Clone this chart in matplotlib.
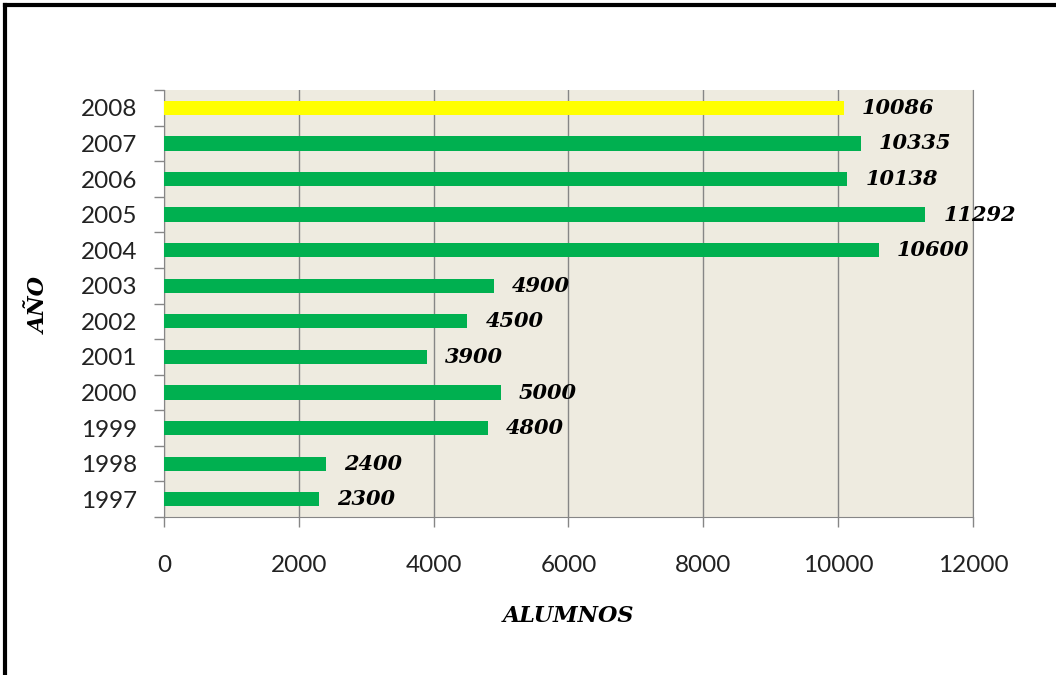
import numpy as np
import matplotlib.pyplot as plt
from matplotlib.lines import Line2D

anios = ['1997', '1998', '1999', '2000', '2001', '2002', '2003', '2004', '2005', '2006', '2007', '2008']
alumnos = [2300, 2400, 4800, 5000, 3900, 4500, 4900, 10600, 11292, 10138, 10335, 10086]
colores = ['#00B050'] * 11 + ['#FFFF00']

fig = plt.figure(figsize=(10.56, 6.75), dpi=100)
ax = fig.add_axes([0.1553, 0.234, 0.766, 0.6326])
ax.set_facecolor('#EEEBE0')

y = np.arange(len(anios))
ax.barh(y, alumnos, height=0.4, color=colores, zorder=3)
ax.set_xlim(0, 12000)
ax.set_ylim(-0.5, len(anios) - 0.5)

ax.set_xticks(np.arange(0, 12001, 2000))
ax.xaxis.grid(True, color='#868686', linewidth=1, zorder=1)
ax.set_yticks(y)
ax.set_yticklabels(anios)
ax.set_yticks(np.arange(-0.5, len(anios)), minor=True)
ax.tick_params(axis='y', which='major', length=0, pad=19)
ax.tick_params(axis='y', which='minor', length=7, color='#868686', width=1)
ax.tick_params(axis='x', length=7, color='#868686', width=1, pad=20)
for lab in ax.get_xticklabels() + ax.get_yticklabels():
    lab.set_family('Lato')
    lab.set_fontsize(17.5)
    lab.set_color('#222222')

for s in ['left', 'bottom', 'right']:
    ax.spines[s].set_color('#868686')
ax.spines['top'].set_visible(False)

for yi, v in zip(y, alumnos):
    ax.annotate(str(v), (v, yi), xytext=(13, 0), textcoords='offset points',
                va='center', ha='left', family='DejaVu Serif', fontsize=15,
                fontweight='bold', fontstyle='italic', zorder=4)

fig.text(0.538, 0.088, 'ALUMNOS', ha='center', va='center', family='DejaVu Serif',
         fontsize=16, fontweight='bold', fontstyle='italic')
fig.text(0.038, 0.548, 'AÑO', ha='center', va='center', rotation=90, family='DejaVu Serif',
         fontsize=16, fontweight='bold', fontstyle='italic')

# marco negro (izquierda y arriba)
fig.add_artist(Line2D([0.005, 0.005], [0, 0.993], color='black', lw=3, transform=fig.transFigure))
fig.add_artist(Line2D([0.005, 1], [0.993, 0.993], color='black', lw=3, transform=fig.transFigure))

plt.savefig('out.png', dpi=100)
